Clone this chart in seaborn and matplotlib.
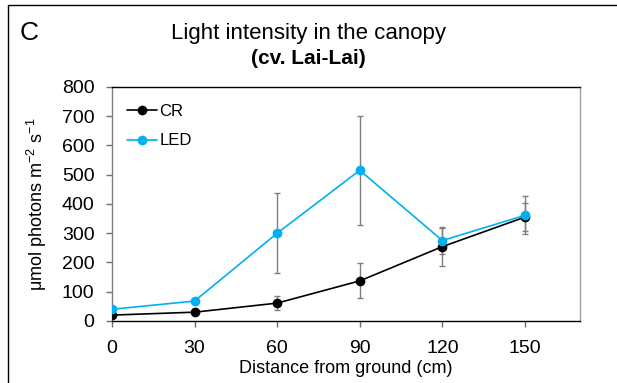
import pandas as pd
import seaborn as sns
import matplotlib.pyplot as plt
from matplotlib.lines import Line2D

# Values
distance = [0, 30, 60, 90, 120, 150]
cr_mean = [20, 30, 61, 137, 254, 355]
cr_err = [6, 6, 25, 60, 65, 47]
led_mean = [40, 68, 300, 515, 275, 361]
led_err = [6, 8, 137, 187, 47, 65]
groups = ['CR', 'LED']
colors = {'CR': '#000000', 'LED': '#00B0F0'}

dataframe = pd.DataFrame({
    'Distance': distance * 2,
    'Light': cr_mean + led_mean,
    'Err': cr_err + led_err,
    'Group': ['CR'] * len(distance) + ['LED'] * len(distance),
})

sns.set_theme(style="white", rc={'text.color': 'black', 'axes.labelcolor': 'black',
                                 'xtick.color': 'black', 'ytick.color': 'black'})
plt.rcParams['font.family'] = ['Liberation Sans', 'DejaVu Sans']

fig = plt.figure(figsize=(6.17, 3.83), dpi=100)
ax = fig.add_axes([0.1815, 0.162, 0.7585, 0.611])

# Error bars first so lines and markers sit on top
for grp in groups:
    sub = dataframe[dataframe['Group'] == grp]
    ax.errorbar(sub['Distance'], sub['Light'], yerr=sub['Err'], fmt='none',
                ecolor='#7f7f7f', elinewidth=1.0, capsize=2.5, capthick=1.0, zorder=1)

sns.lineplot(data=dataframe, x='Distance', y='Light', hue='Group', palette=colors,
             marker='o', markersize=7, markeredgewidth=0, linewidth=1.2,
             ax=ax, legend=False, zorder=3)

ax.set_xlim(0, 170)
ax.set_ylim(0, 800)
ax.set_xticks(distance)
ax.set_yticks(range(0, 801, 100))
ax.tick_params(axis='both', labelsize=14, direction='out', length=4.5,
               width=1, color='#6f6f6f', labelcolor='black', left=True, bottom=True)
ax.tick_params(axis='x', pad=9.5)
ax.tick_params(axis='y', pad=8)
ax.spines['top'].set_color('#000000')
ax.spines['bottom'].set_color('#000000')
ax.spines['right'].set_color('#9f9f9f')
ax.spines['left'].set_color('#7f7f7f')
for sp in ax.spines.values():
    sp.set_linewidth(1.0)

ax.set_xlabel('Distance from ground (cm)', fontsize=13, labelpad=2)
ax.set_ylabel(r'μmol photons m$^\mathregular{-2}$ s$^\mathregular{-1}$', fontsize=13, labelpad=9)

handles = [Line2D([], [], color=colors[g], marker='o', markersize=7,
                  markeredgewidth=0, linewidth=1.2) for g in groups]
ax.legend(handles, groups, loc='upper left', frameon=False, fontsize=12,
          handlelength=1.8, handletextpad=0.15, labelspacing=0.85,
          bbox_to_anchor=(0.0, 0.99))

fig.text(0.5, 0.912, 'Light intensity in the canopy', ha='center', va='center', fontsize=16)
fig.text(0.5, 0.848, '(cv. Lai-Lai)', ha='center', va='center', fontsize=15, fontweight='bold')
fig.text(0.031, 0.915, 'C', ha='left', va='center', fontsize=19)

# thin frame around the panel, top and left edges
fig.add_artist(Line2D([0.013, 0.013], [0, 0.987], color='black', lw=1.0))
fig.add_artist(Line2D([0.013, 1.0], [0.987, 0.987], color='black', lw=1.0))

fig.savefig('out.png', dpi=100)
